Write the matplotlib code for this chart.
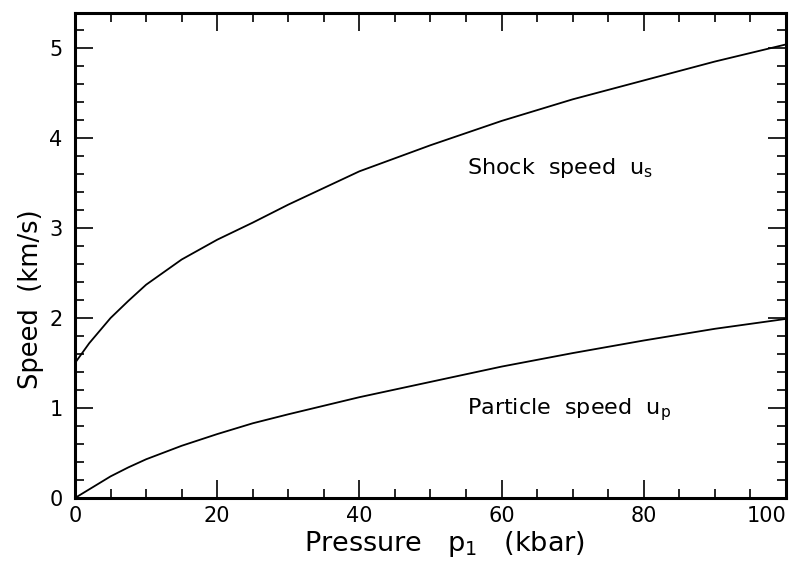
import matplotlib
matplotlib.use("Agg")
import matplotlib.pyplot as plt
from matplotlib.ticker import MultipleLocator

# Data
pressure_shock = [0, 2, 5, 7.5, 10, 15, 20, 25, 30, 40, 50, 60, 70, 80, 90, 100]
shock_speed = [1.50, 1.72, 2.00, 2.19, 2.37, 2.65, 2.87, 3.06, 3.26, 3.63, 3.92, 4.19, 4.43, 4.64, 4.85, 5.04]

pressure_particle = [0, 5, 7.5, 10, 15, 20, 25, 30, 40, 50, 60, 70, 80, 90, 100]
particle_speed = [0.0, 0.24, 0.34, 0.43, 0.58, 0.71, 0.83, 0.93, 1.12, 1.29, 1.46, 1.61, 1.75, 1.88, 1.99]

x_ticks = [0, 20, 40, 60, 80, 100]
x_ticklabels = ["0", "20", "40", "60", "80", "100"]
y_ticks = [0, 1, 2, 3, 4, 5]
y_ticklabels = ["0", "1", "2", "3", "4", "5"]

xlabel = r"Pressure   $\mathregular{p_1}$   (kbar)"
ylabel = "Speed  (km/s)"
shock_label = r"Shock  speed  $\mathregular{u_s}$"
particle_label = r"Particle  speed  $\mathregular{u_p}$"

plt.rcParams['font.family'] = ['DejaVu Sans']

fig = plt.figure(figsize=(7.93, 5.63), dpi=100)
ax = fig.add_axes([0.0946, 0.1155, 0.8965, 0.8615])

ax.plot(pressure_shock, shock_speed, color='black', lw=1.3)
ax.plot(pressure_particle, particle_speed, color='black', lw=1.3)

ax.set_xlim(0, 100)
ax.set_ylim(0, 5.39)

ax.set_xticks(x_ticks)
ax.set_xticklabels(x_ticklabels)
ax.set_yticks(y_ticks)
ax.set_yticklabels(y_ticklabels)
ax.xaxis.set_minor_locator(MultipleLocator(5))
ax.yaxis.set_minor_locator(MultipleLocator(0.2))

ax.tick_params(which='both', direction='in', top=True, right=True, width=1.2, color='black')
ax.tick_params(which='major', length=13, labelsize=15)
ax.tick_params(which='minor', length=6.5)
ax.tick_params(axis='x', which='major', pad=6)
ax.tick_params(axis='y', which='major', pad=9)

for s in ax.spines.values():
    s.set_linewidth(2.2)

ax.set_xlabel(xlabel, fontsize=19.5)
ax.set_ylabel(ylabel, fontsize=18.5)
ax.xaxis.set_label_coords(0.52, -0.064)
ax.yaxis.set_label_coords(-0.044, 0.41)

ax.text(55.1, 3.67, shock_label, fontsize=16, va='center', ha='left')
ax.text(55.1, 0.98, particle_label, fontsize=16, va='center', ha='left')

for lab in ax.get_xticklabels():
    if lab.get_text() == "100":
        lab.set_horizontalalignment('right')

fig.savefig("out.png", dpi=100)
